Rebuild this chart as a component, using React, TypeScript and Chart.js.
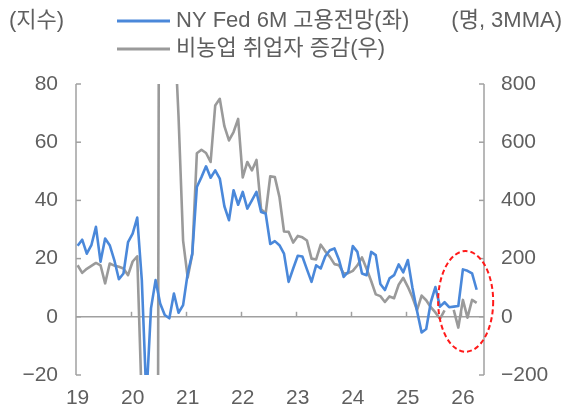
import React, { useEffect, useRef } from 'react';
import { Chart, registerables } from 'chart.js';

Chart.register(...registerables);

// ---- data (monthly, Jan 2019 = index 0) ----
const yearLabels = ['19', '20', '21', '22', '23', '24', '25', '26'];

const nyFedOutlook: number[] = [
  24.4, 26.5, 21.7, 24.6, 30.9, 18.9, 26.9, 24.6, 19.5, 12.9, 14.9, 25.7, // 2019
  28.6, 34.1, 12.6, -28, 2.9, 12.6, 4.6, 0.6, -0.5, 8, 1.4, 4, // 2020
  14.9, 21.7, 44.6, 48, 51.7, 47.8, 50.3, 47.5, 38, 33.2, 43.5, 38.5, // 2021
  42.9, 37.2, 40, 42.9, 36, 35.5, 25, 26, 24.6, 21.7, 12, 16.6, // 2022
  21, 20.7, 16.3, 12, 17.7, 16.6, 20.8, 22.9, 23.5, 19.5, 13.7, 15.4, // 2023
  24.3, 22.3, 14.9, 14.3, 22.3, 21.2, 11.3, 9.2, 13.2, 14.3, 18, 15.3, // 2024
  19.5, 10, 2, -5.4, -4.2, 5, 10.2, 3.5, 5, 3.3, 3.5, 3.7, // 2025
  16.3, 15.8, 14.9, 9.3, // 2026
];

const payrolls3mma: (number | null)[] = [
  177, 151, 165, 175, 185, 177, 115, 183, 176, 172, 166, 143, // 2019
  190, 208, -300, -7000, -6300, -4270, 3135, 2000, 1350, 1030, 690, 262, // 2020
  135, 215, 562, 574, 563, 532, 726, 749, 655, 606, 635, 680, // 2021
  479, 532, 503, 539, 370, 355, 483, 480, 412, 293, 292, 255, // 2022
  278, 273, 262, 200, 197, 248, 225, 206, 181, 177, 149, 150, // 2023
  158, 177, 204, 165, 123, 77, 71, 51, 70, 64, 110, 134, // 2024
  103, 67, 23, 73, 57, 33, 15, -7, 22, null, 24, -37, // 2025
  58, -3, 58, 48, // 2026
];

const leftTicks = [-20, 0, 20, 40, 60, 80];
const rightTicks = [-200, 0, 200, 400, 600, 800];

const FONT = '"Liberation Sans", "Noto Sans CJK KR", sans-serif';
const BLUE = '#4a88da';
const GRAY = '#9a9a9a';
const AXIS = '#a0a0a0';
const TEXT = '#5f5f5f';
const X_OFFSET = 0.35;

const decorPlugin = {
  id: 'decor',
  beforeDatasetsDraw(chart: any) {
    const { ctx, chartArea: a, scales } = chart;
    const x = scales.x;
    const y = scales.y;
    const y1 = scales.y1;
    ctx.save();
    ctx.strokeStyle = AXIS;
    ctx.lineWidth = 1.5;
    const y0 = y.getPixelForValue(0);
    ctx.beginPath();
    ctx.moveTo(a.left, y0);
    ctx.lineTo(a.right, y0);
    ctx.stroke();
    yearLabels.forEach((_, i) => {
      if (i === 0) return;
      const px = Math.round(x.getPixelForValue(i * 12 - X_OFFSET)) + 0.5;
      ctx.beginPath();
      ctx.moveTo(px, y0);
      ctx.lineTo(px, y0 - 5);
      ctx.stroke();
    });
    // left axis
    ctx.beginPath();
    ctx.moveTo(a.left, a.top);
    ctx.lineTo(a.left, a.bottom);
    ctx.stroke();
    leftTicks.forEach((v) => {
      const py = y.getPixelForValue(v);
      ctx.beginPath();
      ctx.moveTo(a.left, py);
      ctx.lineTo(a.left + 5, py);
      ctx.stroke();
    });
    // right axis
    ctx.beginPath();
    ctx.moveTo(a.right, a.top);
    ctx.lineTo(a.right, a.bottom);
    ctx.stroke();
    rightTicks.forEach((v) => {
      const py = y1.getPixelForValue(v);
      ctx.beginPath();
      ctx.moveTo(a.right, py);
      ctx.lineTo(a.right - 5, py);
      ctx.stroke();
    });
    ctx.restore();
  },
  afterDraw(chart: any) {
    const { ctx, scales } = chart;
    const x = scales.x;
    const y = scales.y;
    ctx.save();
    // highlight ellipse around latest readings
    const cx = x.getPixelForValue(84.6);
    const cy = y.getPixelForValue(5.3);
    const rx = x.getPixelForValue(84.6 + 6) - cx;
    const ry = cy - y.getPixelForValue(5.3 + 17.3);
    ctx.strokeStyle = '#ff1a1a';
    ctx.lineWidth = 2;
    ctx.setLineDash([5, 3]);
    ctx.beginPath();
    ctx.ellipse(cx, cy, rx, ry, 0, 0, Math.PI * 2);
    ctx.stroke();
    ctx.setLineDash([]);

    // legend + unit labels
    ctx.font = `22px ${FONT}`;
    ctx.fillStyle = TEXT;
    ctx.textBaseline = 'middle';
    ctx.textAlign = 'left';
    ctx.fillText('(지수)', 9, 21);
    ctx.fillText('NY Fed 6M 고용전망(좌)', 176, 21);
    ctx.fillText('비농업 취업자 증감(우)', 176, 49);
    ctx.textAlign = 'right';
    ctx.fillText('(명, 3MMA)', 562, 21);
    ctx.lineWidth = 3;
    ctx.strokeStyle = BLUE;
    ctx.beginPath();
    ctx.moveTo(117, 21);
    ctx.lineTo(170, 21);
    ctx.stroke();
    ctx.strokeStyle = GRAY;
    ctx.beginPath();
    ctx.moveTo(117, 49);
    ctx.lineTo(170, 49);
    ctx.stroke();
    ctx.restore();
  },
};

const fmt = (v: number) => (v < 0 ? '\u2212' + Math.abs(v) : String(v));

export default function App() {
  const ref = useRef<HTMLCanvasElement | null>(null);

  useEffect(() => {
    if (!ref.current) return;
    const chart = new Chart(ref.current, {
      type: 'line',
      data: {
        datasets: [
          {
            label: 'NY Fed 6M 고용전망(좌)',
            data: nyFedOutlook.map((v, i) => ({ x: i, y: v })),
            borderColor: BLUE,
            borderWidth: 2.6,
            pointRadius: 0,
            tension: 0,
            yAxisID: 'y',
            borderJoinStyle: 'round',
          },
          {
            label: '비농업 취업자 증감(우)',
            data: payrolls3mma.map((v, i) => ({ x: i, y: v })),
            borderColor: GRAY,
            borderWidth: 2.6,
            pointRadius: 0,
            tension: 0,
            spanGaps: false,
            yAxisID: 'y1',
            borderJoinStyle: 'round',
          },
        ],
      },
      options: {
        responsive: false,
        animation: false,
        events: [],
        layout: { padding: { top: 84, left: 0, right: 0, bottom: 0 } },
        plugins: { legend: { display: false }, tooltip: { enabled: false } },
        scales: {
          x: {
            type: 'linear',
            min: -X_OFFSET,
            max: 88.6,
            grid: { display: false, drawTicks: false },
            border: { display: false },
            afterBuildTicks: (s: any) => {
              s.ticks = yearLabels.map((_, i) => ({ value: i * 12 }));
            },
            afterFit: (s: any) => {
              s.height = 37;
            },
            ticks: {
              autoSkip: false,
              maxRotation: 0,
              padding: 11,
              color: TEXT,
              font: { family: FONT, size: 21 },
              callback: (v: any) => yearLabels[Math.round(Number(v) / 12)] ?? '',
            },
          },
          y: {
            position: 'left',
            min: -20,
            max: 80,
            grid: { display: false, drawTicks: false },
            border: { display: false },
            afterBuildTicks: (s: any) => {
              s.ticks = leftTicks.map((v) => ({ value: v }));
            },
            afterFit: (s: any) => {
              s.width = 76;
            },
            ticks: {
              padding: 18,
              color: TEXT,
              font: { family: FONT, size: 21 },
              callback: (v: any) => fmt(Number(v)),
            },
          },
          y1: {
            position: 'right',
            min: -200,
            max: 800,
            grid: { display: false, drawTicks: false },
            border: { display: false },
            afterBuildTicks: (s: any) => {
              s.ticks = rightTicks.map((v) => ({ value: v }));
            },
            afterFit: (s: any) => {
              s.width = 88;
            },
            ticks: {
              padding: 17,
              color: TEXT,
              font: { family: FONT, size: 21 },
              callback: (v: any) => fmt(Number(v)),
            },
          },
        },
      },
      plugins: [decorPlugin],
    } as any);
    return () => chart.destroy();
  }, []);

  return (
    <div style={{ position: 'fixed', left: 0, top: 0, width: 572, height: 412, background: '#fff' }}>
      <canvas ref={ref} width={572} height={412} style={{ display: 'block', width: 572, height: 412 }} />
    </div>
  );
}
